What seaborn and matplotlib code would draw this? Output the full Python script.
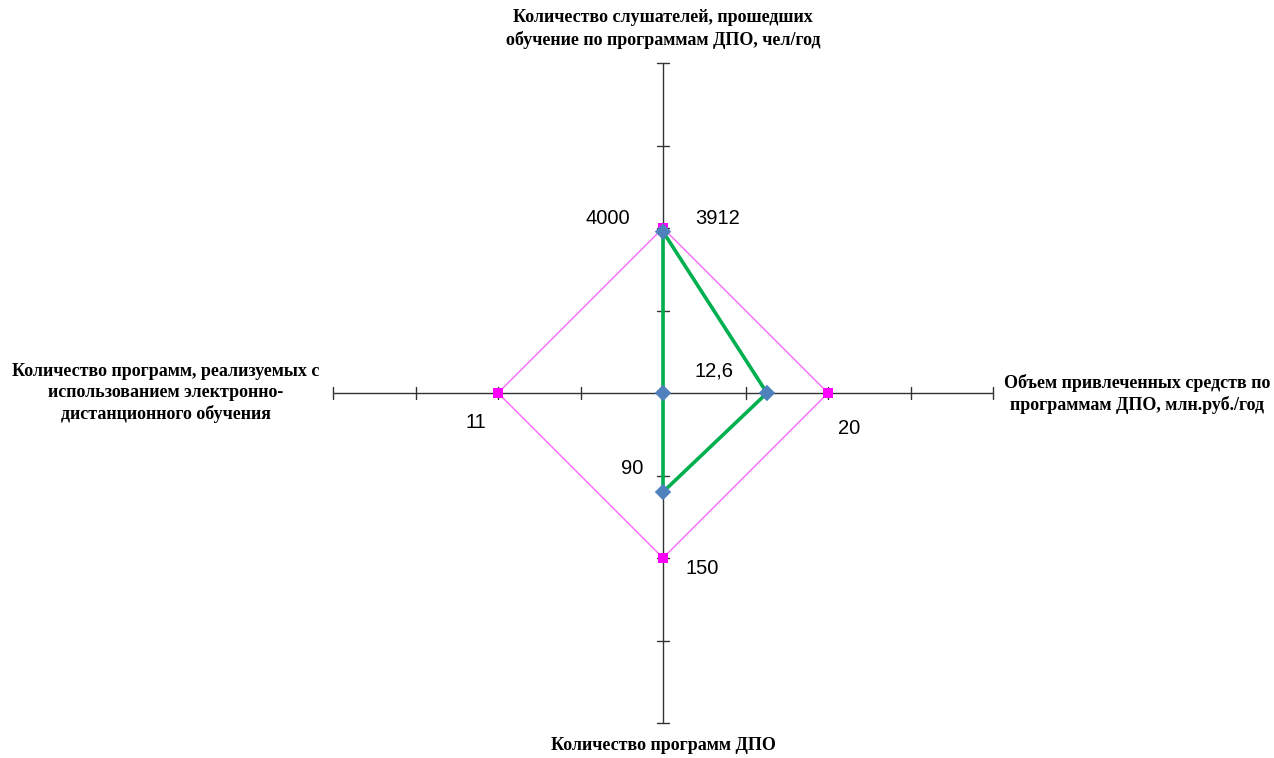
import matplotlib
matplotlib.use("Agg")
import matplotlib.pyplot as plt
import seaborn as sns
import pandas as pd
import numpy as np

sns.set_theme(style="white")
plt.rcParams['font.family'] = ['Liberation Sans', 'DejaVu Sans']

# Axes (clockwise from top): category names and axis maxima
categories = [
    "Количество слушателей, прошедших\nобучение по программам ДПО, чел/год",
    "Объем привлеченных средств по\nпрограммам ДПО, млн.руб./год",
    "Количество программ ДПО",
    "Количество программ, реализуемых с\nиспользованием электронно-\nдистанционного обучения",
]
axis_max = [8000, 40, 300, 22]
target_values = [4000, 20, 150, 11]      # magenta series
actual_values = [3912, 12.6, 90, 0]      # green series
target_labels = ["4000", "20", "150", "11"]
actual_labels = ["3912", "12,6", "90", ""]

# direction unit vectors: up, right, down, left
dirs = [(0, 1), (1, 0), (0, -1), (-1, 0)]
R = 4.0  # axis length in ticks

def to_xy(vals):
    xs, ys = [], []
    for v, m, (dx, dy) in zip(vals, axis_max, dirs):
        r = v / m * R
        xs.append(dx * r); ys.append(dy * r)
    return xs, ys

W, H, DPI = 1274, 758, 100
fig = plt.figure(figsize=(W / DPI, H / DPI), dpi=DPI)
ax = fig.add_axes([0, 0, 1, 1])
cx, cy, unit = 663, 393, 82.5
ax.set_xlim(-cx / unit, (W - cx) / unit)
ax.set_ylim(-(H - cy) / unit, cy / unit)
ax.axis("off")

# cross axes
axc = "#333333"
ax.plot([-R, R], [0, 0], color=axc, lw=1.0, zorder=1)
ax.plot([0, 0], [-R, R], color=axc, lw=1.0, zorder=1)
t = 0.07
for k in range(1, 5):
    ax.plot([k, k], [-t, t], color=axc, lw=1.0, zorder=1)
    ax.plot([-k, -k], [-t, t], color=axc, lw=1.0, zorder=1)
    ax.plot([-t, t], [k, k], color=axc, lw=1.0, zorder=1)
    ax.plot([-t, t], [-k, -k], color=axc, lw=1.0, zorder=1)

# target series (magenta)
tx, ty = to_xy(target_values)
df_t = pd.DataFrame({"x": tx + [tx[0]], "y": ty + [ty[0]]})
sns.lineplot(data=df_t, x="x", y="y", sort=False, estimator=None, ax=ax,
             color="#FF66FF", lw=1.0, zorder=2)
sns.scatterplot(x=tx, y=ty, ax=ax, marker="s", s=60, color="#FF00FF",
                edgecolor="none", zorder=3)

# actual series (green)
axx, ayy = to_xy(actual_values)
df_a = pd.DataFrame({"x": axx + [axx[0]], "y": ayy + [ayy[0]]})
sns.lineplot(data=df_a, x="x", y="y", sort=False, estimator=None, ax=ax,
             color="#00B050", lw=2.6, zorder=4)
sns.scatterplot(x=axx, y=ayy, ax=ax, marker="D", s=70, color="#4F81BD",
                edgecolor="none", zorder=5)

def px(x, y):
    return (x - cx) / unit, (cy - y) / unit

fs = 14.5
# value labels (pixel positions)
tl_pos = [(608, 218), (849, 428), (702, 568), (476, 422)]
al_pos = [(718, 218), (714, 371), (632, 468), None]
for lab, p in zip(target_labels, tl_pos):
    ax.text(*px(*p), lab, ha="center", va="center", fontsize=fs, color="black")
for lab, p in zip(actual_labels, al_pos):
    if p is not None and lab:
        ax.text(*px(*p), lab, ha="center", va="center", fontsize=fs, color="black")

# category labels
cat_kw = dict(family=['Liberation Serif', 'DejaVu Serif'], fontweight="bold",
              fontsize=13, color="black", linespacing=1.3)
ax.text(*px(663, 29), categories[0], ha="center", va="center", **cat_kw)
ax.text(*px(1137, 394), categories[1], ha="center", va="center", **cat_kw)
ax.text(*px(663, 746), categories[2], ha="center", va="center", **cat_kw)
ax.text(*px(166, 393), categories[3], ha="center", va="center", **cat_kw)

fig.savefig("out.png", dpi=DPI)
